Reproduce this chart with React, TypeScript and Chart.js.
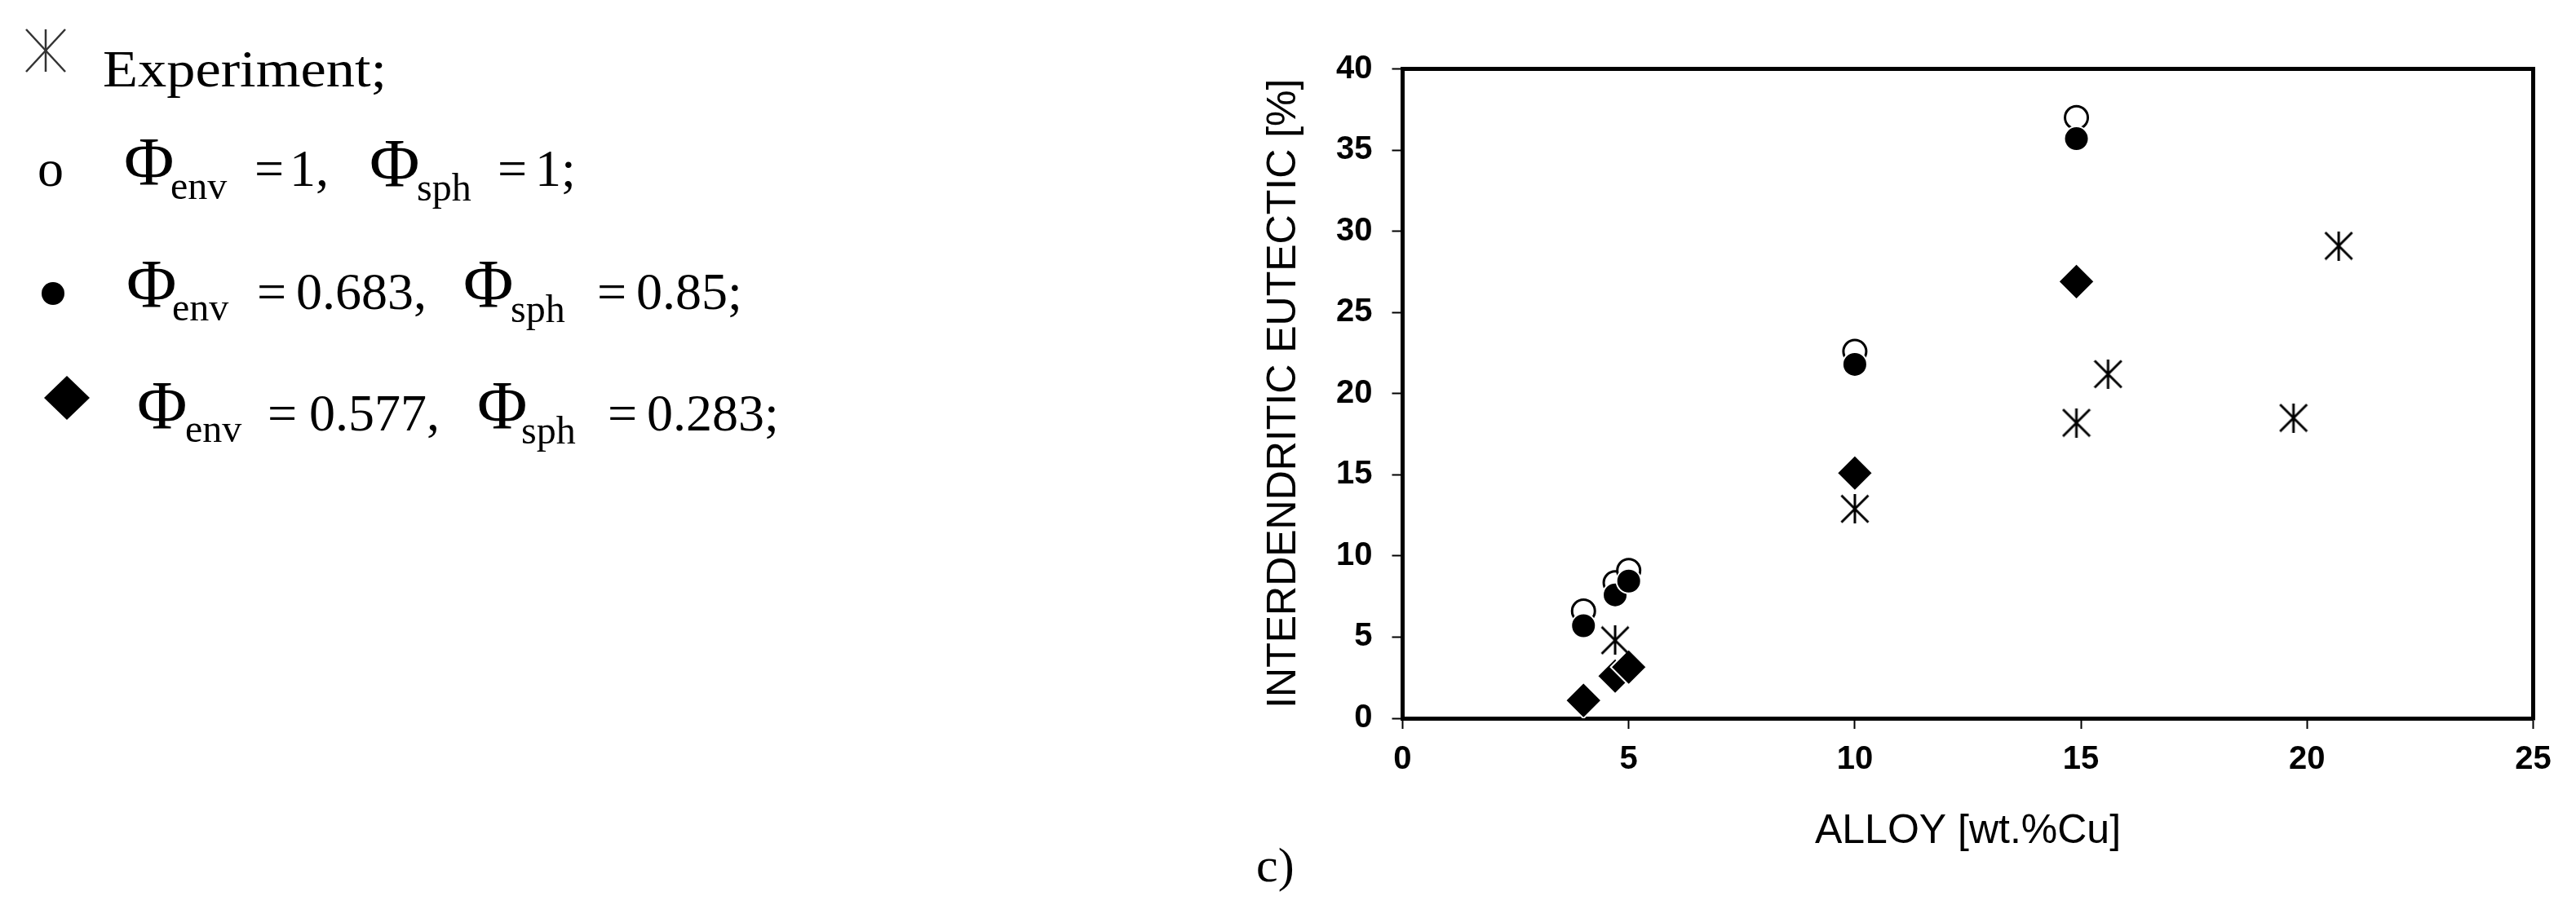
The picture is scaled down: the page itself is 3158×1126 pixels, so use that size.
import React, { useEffect, useRef } from "react";
import { Chart, registerables } from "chart.js";

Chart.register(...registerables);

// ---- data ----
const alloyX = [4, 4.7, 5, 10, 14.9];
const phi1Y = [6.6, 8.35, 9.1, 22.6, 37.0]; // Φenv = 1, Φsph = 1 (open circles)
const phi2Y = [5.7, 7.6, 8.45, 21.8, 35.7]; // Φenv = 0.683, Φsph = 0.85 (filled circles)
const phi3Y = [1.1, 2.6, 3.15, 15.1, 26.9]; // Φenv = 0.577, Φsph = 0.283 (diamonds)
const expX = [4.7, 10, 14.9, 15.6, 19.7, 20.7];
const expY = [4.8, 12.9, 18.2, 21.2, 18.5, 29.1]; // Experiment (asterisks)
const xMin = 0, xMax = 25, xStep = 5;
const yMin = 0, yMax = 40, yStep = 5;
const xTitle = "ALLOY [wt.%Cu]";
const yTitle = "INTERDENDRITIC EUTECTIC [%]";

const W = 3158, H = 1126;
const sans = "'Liberation Sans', Arial, sans-serif";
const serif = "'Liberation Serif', 'Times New Roman', serif";

function makeAsterisk(size: number, lw: number): HTMLCanvasElement {
  const c = document.createElement("canvas");
  c.width = size;
  c.height = size;
  const g = c.getContext("2d")!;
  g.strokeStyle = "#000";
  g.lineWidth = lw;
  const m = lw / 2, e = size - lw / 2, h = size / 2;
  g.beginPath();
  g.moveTo(m, m); g.lineTo(e, e);
  g.moveTo(e, m); g.lineTo(m, e);
  g.moveTo(h, 0); g.lineTo(h, size);
  g.stroke();
  return c;
}

const framePlugin = {
  id: "frameTopRight",
  afterDatasetsDraw(chart: any) {
    const { ctx, chartArea } = chart;
    const { left, top, right, bottom } = chartArea;
    ctx.save();
    ctx.strokeStyle = "#000";
    ctx.lineWidth = 5;
    ctx.beginPath();
    ctx.moveTo(left - 2.5, top);
    ctx.lineTo(right, top);
    ctx.lineTo(right, bottom + 2.5);
    ctx.stroke();
    ctx.restore();
  },
};

function pts(xs: number[], ys: number[]) {
  return xs.map((x, i) => ({ x, y: ys[i] }));
}

export default function App() {
  const ref = useRef<HTMLCanvasElement | null>(null);

  useEffect(() => {
    if (!ref.current) return;
    const star = makeAsterisk(36, 3);
    const chart = new Chart(ref.current, {
      type: "scatter",
      data: {
        datasets: [
          {
            label: "Experiment",
            data: pts(expX, expY),
            pointStyle: star as any,
            pointRadius: 18,
            order: 1,
          },
          {
            label: "Φenv = 0.577, Φsph = 0.283",
            data: pts(alloyX, phi3Y),
            pointStyle: "rectRot",
            pointRadius: 22,
            pointBackgroundColor: "#000",
            pointBorderColor: "#fff",
            pointBorderWidth: 2,
            order: 2,
          },
          {
            label: "Φenv = 0.683, Φsph = 0.85",
            data: pts(alloyX, phi2Y),
            pointStyle: "circle",
            pointRadius: 15,
            pointBackgroundColor: "#000",
            pointBorderColor: "#fff",
            pointBorderWidth: 2,
            order: 3,
          },
          {
            label: "Φenv = 1, Φsph = 1",
            data: pts(alloyX, phi1Y),
            pointStyle: "circle",
            pointRadius: 14,
            pointBackgroundColor: "#fff",
            pointBorderColor: "#000",
            pointBorderWidth: 3,
            order: 4,
          },
        ],
      },
      options: {
        responsive: false,
        maintainAspectRatio: false,
        devicePixelRatio: 1,
        animation: false,
        events: [],
        layout: { padding: { left: 1544.5, top: 84.5, right: 52.5, bottom: 75.6 } },
        plugins: { legend: { display: false }, tooltip: { enabled: false } },
        scales: {
          x: {
            type: "linear",
            min: xMin,
            max: xMax,
            ticks: {
              stepSize: xStep,
              color: "#000",
              padding: 13.5,
              maxRotation: 0,
              font: { family: sans, size: 40, weight: "bold" },
            },
            grid: {
              display: true,
              drawOnChartArea: false,
              drawTicks: true,
              tickLength: 13,
              tickWidth: 2,
              tickColor: "#000",
            },
            border: { display: true, color: "#000", width: 5 },
            title: {
              display: true,
              text: xTitle,
              color: "#000",
              font: { family: sans, size: 50, weight: "normal", lineHeight: 1.2 },
              padding: { top: 21.4, bottom: 0 },
            },
          },
          y: {
            type: "linear",
            min: yMin,
            max: yMax,
            ticks: {
              stepSize: yStep,
              color: "#000",
              padding: 24,
              font: { family: sans, size: 40, weight: "bold" },
            },
            grid: {
              display: true,
              drawOnChartArea: false,
              drawTicks: true,
              tickLength: 13,
              tickWidth: 2,
              tickColor: "#000",
            },
            border: { display: true, color: "#000", width: 5 },
            title: {
              display: true,
              text: yTitle,
              color: "#000",
              font: { family: sans, size: 50, weight: "normal", lineHeight: 1.2 },
              padding: { top: 0, bottom: 9.5 },
            },
          },
        },
      },
      plugins: [framePlugin],
    } as any);
    return () => chart.destroy();
  }, []);

  const t = (x: number, y: number, size: number, s: string, extra: any = {}) => (
    <text x={x} y={y} fontSize={size} fontFamily={serif} fill="#000" {...extra}>
      {s}
    </text>
  );

  return (
    <div style={{ position: "absolute", left: 0, top: 0, width: W, height: H, background: "#fff" }}>
      <canvas
        ref={ref}
        width={W}
        height={H}
        style={{ position: "absolute", left: 0, top: 0, width: W, height: H }}
      />
      <svg
        width={W}
        height={H}
        style={{ position: "absolute", left: 0, top: 0, pointerEvents: "none" }}
      >
        {/* row 1: Experiment */}
        <g stroke="#333" strokeWidth={2.5}>
          <line x1={56} y1={36} x2={56} y2={88} />
          <line x1={32} y1={36} x2={80} y2={88} />
          <line x1={80} y1={36} x2={32} y2={88} />
        </g>
        {t(126, 106, 64, "Experiment;", { textLength: 348, lengthAdjust: "spacingAndGlyphs" })}

        {/* row 2 */}
        {t(46, 228, 64, "o")}
        {t(152, 227, 84, "Φ")}
        {t(209, 244, 48, "env")}
        {t(312, 228, 64, "=")}
        {t(355, 228, 64, "1,")}
        {t(453, 229, 84, "Φ")}
        {t(511, 246, 48, "sph")}
        {t(610, 228, 64, "=")}
        {t(656, 228, 64, "1;")}

        {/* row 3 */}
        <circle cx={65} cy={360} r={14} fill="#000" />
        {t(155, 377, 84, "Φ")}
        {t(211, 393, 48, "env")}
        {t(315, 379, 64, "=")}
        {t(363, 379, 64, "0.683,")}
        {t(568, 377, 84, "Φ")}
        {t(626, 395, 48, "sph")}
        {t(732, 379, 64, "=")}
        {t(780, 379, 64, "0.85;")}

        {/* row 4 */}
        <polygon points="82,461 110,488 82,515 54,488" fill="#000" />
        {t(168, 526, 84, "Φ")}
        {t(227, 542, 48, "env")}
        {t(328, 528, 64, "=")}
        {t(379, 528, 64, "0.577,")}
        {t(585, 526, 84, "Φ")}
        {t(639, 544, 48, "sph")}
        {t(745, 528, 64, "=")}
        {t(793, 528, 64, "0.283;")}

        {/* panel label */}
        {t(1540, 1081, 60, "c)")}
      </svg>
    </div>
  );
}
